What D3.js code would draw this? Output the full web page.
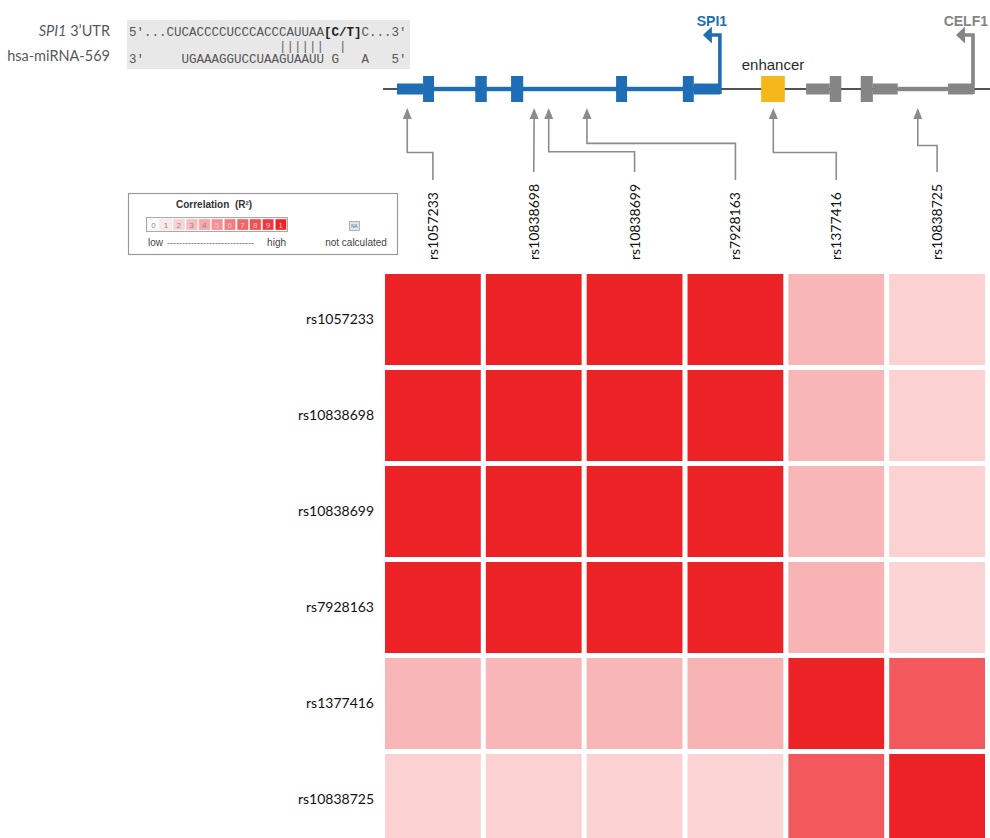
<!DOCTYPE html>
<html>
<head>
<meta charset="utf-8">
<script src="https://cdn.jsdelivr.net/npm/d3@7"></script>
<style>
  html, body { margin: 0; padding: 0; background: #fff; }
  svg { display: block; }
</style>
</head>
<body>
<svg id="chart" width="990" height="838"></svg>
<script>
// SNPs shown on both axes of the LD matrix
const snps = ["rs1057233", "rs10838698", "rs10838699", "rs7928163", "rs1377416", "rs10838725"];

// Pairwise correlation (r²) between SNPs, row-major in the order of `snps`
const r2 = [
  [1.00, 1.00, 1.00, 1.00, 0.33, 0.21],
  [1.00, 1.00, 1.00, 1.00, 0.33, 0.21],
  [1.00, 1.00, 1.00, 1.00, 0.33, 0.21],
  [1.00, 1.00, 1.00, 1.00, 0.345, 0.195],
  [0.33, 0.33, 0.33, 0.345, 1.00, 0.75],
  [0.21, 0.21, 0.21, 0.195, 0.75, 1.00]
];

// Legend steps of the r² colour key
const legendSteps = [0, 0.1, 0.2, 0.3, 0.4, 0.5, 0.6, 0.7, 0.8, 0.9, 1];
const legendLabels = ["0", "1", "2", "3", "4", "5", "6", "7", "8", "9", "1"];

// Locus map in relative track units (0–100)
const spi1Utr = [[2.3, 6.6], [51.2, 55.5]];
const spi1Exons = [[6.6, 8.4], [15.2, 17.1], [21.1, 23.1], [38.4, 40.2], [49.4, 51.2]];
const spi1Intron = [6.6, 51.2];
const spi1Tss = 55.5;
const enhancer = [62.3, 66.2];
const celf1Utr = [[69.7, 73.6], [80.7, 84.8], [93.1, 97.2]];
const celf1Exons = [[73.6, 75.5], [78.7, 80.7]];
const celf1Gap = [75.5, 78.7];
const celf1Intron = [84.8, 93.1];
const celf1Tss = 97.2;
const snpTrackPos = [4.0, 24.9, 27.3, 33.6, 64.3, 88.1];
// relative height of each SNP leader's elbow (0 = top, 1 = bottom; null = straight)
const leaderElbow = [0.55, null, 0.62, 0.4, 0.55, 0.5];

// miRNA binding site alignment
const utrLine = ["5′...CUCACCCCUCCCACCCAUUAA", "[C/T]", "C...3′"];
const pairLine = "                    ||||||  |";
const mirLine = "3′     UGAAAGGUCCUAAGUAAUU G   A   5′";

const svg = d3.select("#chart");
const sans = "Lato, 'Open Sans', sans-serif";
const arial = "'Liberation Sans', Arial, sans-serif";
const mono = "'Liberation Mono', 'Courier New', monospace";

const red = "#EC2227";
const color = d3.scaleLinear().domain([0, 1]).range(["#ffffff", red]).interpolate(d3.interpolateRgb);

// ---------- LD heatmap ----------
const x = d3.scaleBand().domain(snps).range([385, 985]).paddingInner(0.05);
const y = d3.scaleBand().domain(snps).range([274, 845]).paddingInner(0.052);

const cells = [];
r2.forEach((row, i) => row.forEach((v, j) => cells.push({ row: snps[i], col: snps[j], v })));

svg.append("g").selectAll("rect")
  .data(cells)
  .join("rect")
  .attr("x", d => x(d.col))
  .attr("y", d => y(d.row))
  .attr("width", x.bandwidth())
  .attr("height", y.bandwidth())
  .attr("fill", d => color(d.v));

// row labels
const yAxis = svg.append("g")
  .attr("transform", `translate(${x.range()[0]},0)`)
  .call(d3.axisLeft(y).tickSize(0).tickPadding(11));
yAxis.select(".domain").remove();
yAxis.selectAll("text")
  .attr("font-family", sans).attr("font-size", 14).attr("fill", "#111");

// column labels (vertical)
const colBase = 260;
const colLabels = svg.append("g").selectAll("text")
  .data(snps)
  .join("text")
  .attr("transform", d => `translate(${x(d) + x.bandwidth() / 2 + 5},${colBase}) rotate(-90)`)
  .attr("font-family", sans).attr("font-size", 14).attr("fill", "#111")
  .text(d => d);

// ---------- locus track ----------
const gx = d3.scaleLinear().domain([0, 100]).range([383, 990]);
const baseY = 89;
const gTrack = svg.append("g");

gTrack.append("line")
  .attr("x1", gx(0)).attr("x2", gx(100))
  .attr("y1", baseY).attr("y2", baseY)
  .attr("stroke", "#1a1a1a").attr("stroke-width", 1.5);

function gene(g, fill, utrs, exons, intron) {
  g.append("rect")
    .attr("x", gx(intron[0])).attr("width", gx(intron[1]) - gx(intron[0]))
    .attr("y", baseY - 2.2).attr("height", 4.4).attr("fill", fill);
  g.selectAll(null).data(utrs).join("rect")
    .attr("x", d => gx(d[0])).attr("width", d => gx(d[1]) - gx(d[0]))
    .attr("y", baseY - 5.5).attr("height", 11).attr("fill", fill);
  g.selectAll(null).data(exons).join("rect")
    .attr("x", d => gx(d[0])).attr("width", d => gx(d[1]) - gx(d[0]))
    .attr("y", baseY - 13).attr("height", 26).attr("fill", fill);
}

function tss(g, fill, pos, label) {
  const tx = gx(pos), top = 35;
  g.append("path")
    .attr("d", `M${tx},${baseY + 5} L${tx},${top} L${tx - 9},${top}`)
    .attr("fill", "none").attr("stroke", fill).attr("stroke-width", 3.6);
  g.append("path")
    .attr("d", `M${tx - 8},${top - 8.5} L${tx - 8},${top + 8.5} L${tx - 17},${top} Z`)
    .attr("fill", fill);
  g.append("text")
    .attr("x", label.anchor === "end" ? 988 : tx - 8).attr("y", 26)
    .attr("text-anchor", label.anchor)
    .attr("font-family", arial).attr("font-weight", "bold").attr("font-size", 14)
    .attr("fill", fill).text(label.text);
}

const blue = "#1F6DB5";
const grey = "#858585";

const gSpi = gTrack.append("g");
gene(gSpi, blue, spi1Utr, spi1Exons, spi1Intron);
tss(gSpi, blue, spi1Tss, { text: "SPI1", anchor: "middle" });

const gCelf = gTrack.append("g");
gene(gCelf, grey, celf1Utr, celf1Exons, celf1Intron);
gCelf.append("line")
  .attr("x1", gx(celf1Gap[0])).attr("x2", gx(celf1Gap[1]))
  .attr("y1", baseY).attr("y2", baseY)
  .attr("stroke", "#555").attr("stroke-width", 2).attr("stroke-dasharray", "1.5,1.5");
tss(gCelf, grey, celf1Tss, { text: "CELF1", anchor: "end" });

gTrack.append("rect")
  .attr("x", gx(enhancer[0])).attr("width", gx(enhancer[1]) - gx(enhancer[0]))
  .attr("y", baseY - 13).attr("height", 26).attr("fill", "#F6B71B");
gTrack.append("text")
  .attr("x", gx((enhancer[0] + enhancer[1]) / 2)).attr("y", 70)
  .attr("text-anchor", "middle")
  .attr("font-family", arial).attr("font-size", 15).attr("fill", "#2b2b2b")
  .text("enhancer");

// SNP leaders from column labels up to their track position
const tipY = 108, leaderTop = 119;
const gLead = svg.append("g");
colLabels.each(function (s, i) {
  const lx = x(s) + x.bandwidth() / 2;
  const ax = gx(snpTrackPos[i]);
  const bottom = colBase - this.getComputedTextLength() - 12;
  const e = leaderElbow[i];
  const elbow = leaderTop + (bottom - leaderTop) * (e === null ? 0 : e);
  const d = e === null
    ? `M${lx},${bottom} L${ax},${tipY + 8}`
    : `M${lx},${bottom} L${lx},${elbow} L${ax},${elbow} L${ax},${tipY + 8}`;
  gLead.append("path").attr("d", d)
    .attr("fill", "none").attr("stroke", "#8c8c8c").attr("stroke-width", 1.6);
  gLead.append("path")
    .attr("d", `M${ax},${tipY} L${ax - 4.5},${tipY + 11} L${ax + 4.5},${tipY + 11} Z`)
    .attr("fill", "#8c8c8c");
});

// ---------- miRNA alignment ----------
const gSeq = svg.append("g");
gSeq.append("rect").attr("x", 127).attr("y", 20).attr("width", 283).attr("height", 49).attr("fill", "#E8E8E8");
const seqX = 129;
const t1 = gSeq.append("text").attr("x", seqX).attr("y", 36)
  .attr("font-family", mono).attr("font-size", 12.5).attr("fill", "#555")
  .style("white-space", "pre");
t1.append("tspan").text(utrLine[0]);
t1.append("tspan").attr("font-weight", "bold").attr("fill", "#222").text(utrLine[1]);
t1.append("tspan").text(utrLine[2]);
gSeq.append("text").attr("x", seqX).attr("y", 50)
  .attr("font-family", mono).attr("font-size", 12.5).attr("fill", "#666")
  .style("white-space", "pre").text(pairLine);
gSeq.append("text").attr("x", seqX).attr("y", 63)
  .attr("font-family", mono).attr("font-size", 12.5).attr("fill", "#555")
  .style("white-space", "pre").text(mirLine);

const lab1 = svg.append("text").attr("x", 110).attr("y", 36).attr("text-anchor", "end")
  .attr("font-family", sans).attr("font-size", 14.5).attr("fill", "#595959");
lab1.append("tspan").attr("font-style", "italic").text("SPI1");
lab1.append("tspan").text(" 3’UTR");
svg.append("text").attr("x", 110).attr("y", 61).attr("text-anchor", "end")
  .attr("font-family", sans).attr("font-size", 14.5).attr("fill", "#595959")
  .text("hsa-miRNA-569");

// ---------- colour key ----------
const gLeg = svg.append("g");
gLeg.append("rect").attr("x", 128.5).attr("y", 193.5).attr("width", 269).attr("height", 61)
  .attr("fill", "#fff").attr("stroke", "#9a9a9a").attr("stroke-width", 1.2);
gLeg.append("text").attr("x", 176).attr("y", 208)
  .attr("font-family", arial).attr("font-weight", "bold").attr("font-size", 10).attr("fill", "#333")
  .style("white-space", "pre").text("Correlation  (R²)");

const lx = d3.scaleBand().domain(d3.range(legendSteps.length)).range([147, 287]);
gLeg.append("rect").attr("x", 146.5).attr("y", 217.5).attr("width", 141).attr("height", 14)
  .attr("fill", "none").attr("stroke", "#aaa");
gLeg.selectAll(".key").data(legendSteps).join("rect").attr("class", "key")
  .attr("x", (d, i) => lx(i) + 1).attr("y", 219)
  .attr("width", lx.bandwidth() - 1.5).attr("height", 11)
  .attr("fill", d => color(d)).attr("stroke", "#ddd").attr("stroke-width", 0.5);
gLeg.selectAll(".keyLab").data(legendLabels).join("text").attr("class", "keyLab")
  .attr("x", (d, i) => lx(i) + lx.bandwidth() / 2).attr("y", 228)
  .attr("text-anchor", "middle")
  .attr("font-family", arial).attr("font-size", 8)
  .attr("fill", (d, i) => legendSteps[i] > 0.45 ? "#f5c8c8" : "#8a8a8a")
  .text(d => d);

gLeg.append("text").attr("x", 148).attr("y", 246)
  .attr("font-family", arial).attr("font-size", 10).attr("fill", "#444").text("low");
gLeg.append("text").attr("x", 167).attr("y", 246)
  .attr("font-family", arial).attr("font-size", 9).attr("fill", "#666")
  .text("-".repeat(29));
gLeg.append("text").attr("x", 286).attr("y", 246).attr("text-anchor", "end")
  .attr("font-family", arial).attr("font-size", 10).attr("fill", "#444").text("high");

gLeg.append("rect").attr("x", 349.5).attr("y", 221.5).attr("width", 10).attr("height", 9)
  .attr("fill", "#DCE5EF").attr("stroke", "#98A6B8").attr("stroke-width", 0.8);
gLeg.append("text").attr("x", 354.5).attr("y", 228).attr("text-anchor", "middle")
  .attr("font-family", arial).attr("font-size", 4.5).attr("fill", "#5a6b80").text("NA");
gLeg.append("text").attr("x", 356).attr("y", 246).attr("text-anchor", "middle")
  .attr("font-family", arial).attr("font-size", 10).attr("fill", "#444").text("not calculated");
</script>
</body>
</html>
